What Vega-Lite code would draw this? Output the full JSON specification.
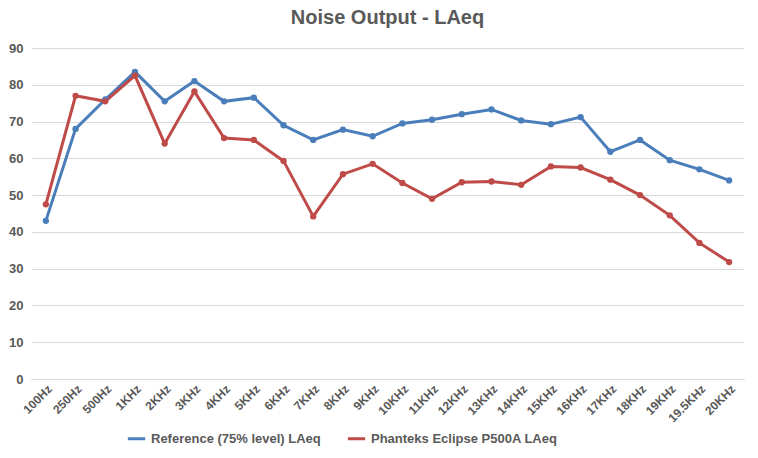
{"$schema":"https://vega.github.io/schema/vega-lite/v6.json","width":758,"height":458,"autosize":{"type":"fit","contains":"padding"},"padding":{"left":8,"right":14,"top":8,"bottom":34},"background":"white","title":{"text":"Noise Output - LAeq","fontSize":20,"font":"Liberation Sans","fontWeight":"bold","color":"#595959","offset":14},
"data":{"values":[
{"f":"100Hz","s":"Reference (75% level) LAeq","v":43},{"f":"250Hz","s":"Reference (75% level) LAeq","v":68},{"f":"500Hz","s":"Reference (75% level) LAeq","v":76},{"f":"1KHz","s":"Reference (75% level) LAeq","v":83.5},{"f":"2KHz","s":"Reference (75% level) LAeq","v":75.5},{"f":"3KHz","s":"Reference (75% level) LAeq","v":81},{"f":"4KHz","s":"Reference (75% level) LAeq","v":75.5},{"f":"5KHz","s":"Reference (75% level) LAeq","v":76.5},{"f":"6KHz","s":"Reference (75% level) LAeq","v":69},{"f":"7KHz","s":"Reference (75% level) LAeq","v":65},{"f":"8KHz","s":"Reference (75% level) LAeq","v":67.8},{"f":"9KHz","s":"Reference (75% level) LAeq","v":66},{"f":"10KHz","s":"Reference (75% level) LAeq","v":69.5},{"f":"11KHz","s":"Reference (75% level) LAeq","v":70.5},{"f":"12KHz","s":"Reference (75% level) LAeq","v":72},{"f":"13KHz","s":"Reference (75% level) LAeq","v":73.3},{"f":"14KHz","s":"Reference (75% level) LAeq","v":70.3},{"f":"15KHz","s":"Reference (75% level) LAeq","v":69.3},{"f":"16KHz","s":"Reference (75% level) LAeq","v":71.2},{"f":"17KHz","s":"Reference (75% level) LAeq","v":61.8},{"f":"18KHz","s":"Reference (75% level) LAeq","v":65},{"f":"19KHz","s":"Reference (75% level) LAeq","v":59.5},{"f":"19.5KHz","s":"Reference (75% level) LAeq","v":57},{"f":"20KHz","s":"Reference (75% level) LAeq","v":54},
{"f":"100Hz","s":"Phanteks Eclipse P500A LAeq","v":47.5},{"f":"250Hz","s":"Phanteks Eclipse P500A LAeq","v":77},{"f":"500Hz","s":"Phanteks Eclipse P500A LAeq","v":75.5},{"f":"1KHz","s":"Phanteks Eclipse P500A LAeq","v":82.5},{"f":"2KHz","s":"Phanteks Eclipse P500A LAeq","v":64},{"f":"3KHz","s":"Phanteks Eclipse P500A LAeq","v":78.2},{"f":"4KHz","s":"Phanteks Eclipse P500A LAeq","v":65.5},{"f":"5KHz","s":"Phanteks Eclipse P500A LAeq","v":65},{"f":"6KHz","s":"Phanteks Eclipse P500A LAeq","v":59.3},{"f":"7KHz","s":"Phanteks Eclipse P500A LAeq","v":44.2},{"f":"8KHz","s":"Phanteks Eclipse P500A LAeq","v":55.7},{"f":"9KHz","s":"Phanteks Eclipse P500A LAeq","v":58.5},{"f":"10KHz","s":"Phanteks Eclipse P500A LAeq","v":53.3},{"f":"11KHz","s":"Phanteks Eclipse P500A LAeq","v":49},{"f":"12KHz","s":"Phanteks Eclipse P500A LAeq","v":53.5},{"f":"13KHz","s":"Phanteks Eclipse P500A LAeq","v":53.7},{"f":"14KHz","s":"Phanteks Eclipse P500A LAeq","v":52.8},{"f":"15KHz","s":"Phanteks Eclipse P500A LAeq","v":57.8},{"f":"16KHz","s":"Phanteks Eclipse P500A LAeq","v":57.5},{"f":"17KHz","s":"Phanteks Eclipse P500A LAeq","v":54.2},{"f":"18KHz","s":"Phanteks Eclipse P500A LAeq","v":50},{"f":"19KHz","s":"Phanteks Eclipse P500A LAeq","v":44.5},{"f":"19.5KHz","s":"Phanteks Eclipse P500A LAeq","v":37},{"f":"20KHz","s":"Phanteks Eclipse P500A LAeq","v":31.8}
]},
"mark":{"type":"line","point":{"size":40,"filled":true},"strokeWidth":3},
"encoding":{
"x":{"field":"f","type":"ordinal","sort":null,"title":null,"scale":{"paddingOuter":0.4},"axis":{"labelAngle":-45,"labelFontSize":12,"labelFontWeight":"bold","labelColor":"#595959","labelFont":"Liberation Sans","domainColor":"#d9d9d9","ticks":false,"labelPadding":4}},
"y":{"field":"v","type":"quantitative","title":null,"scale":{"domain":[0,90]},"axis":{"tickCount":9,"labelFontSize":13,"labelFontWeight":"bold","labelColor":"#595959","labelFont":"Liberation Sans","domain":false,"ticks":false,"gridColor":"#d9d9d9","labelPadding":8}},
"color":{"field":"s","type":"nominal","sort":["Reference (75% level) LAeq","Phanteks Eclipse P500A LAeq"],"scale":{"range":["#4a7ebb","#be4b48"]},"legend":{"orient":"none","legendX":95,"legendY":380,"title":null,"direction":"horizontal","labelFontSize":13,"labelFontWeight":"bold","labelColor":"#595959","labelFont":"Liberation Sans","symbolType":"stroke","symbolStrokeWidth":3,"symbolSize":300,"labelLimit":300,"columnPadding":20}}
},
"config":{"view":{"stroke":null}}}
